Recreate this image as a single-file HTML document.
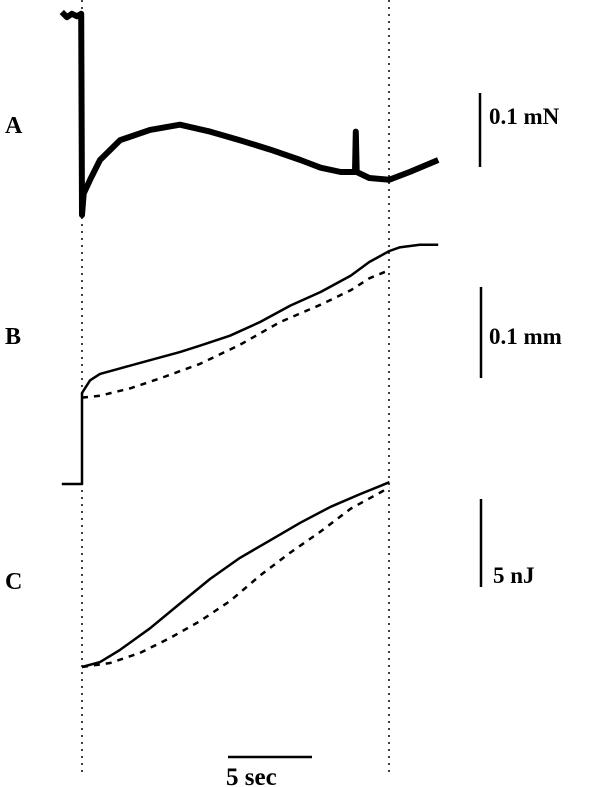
<!DOCTYPE html>
<html><head><meta charset="utf-8"><style>
html,body{margin:0;padding:0;background:#fff;}
svg{display:block;}
text{font-family:"Liberation Serif",serif;font-weight:bold;fill:#000;}
</style></head><body>
<svg id="chart" width="600" height="787" viewBox="0 0 600 787">
  <line x1="82" y1="0" x2="82" y2="772" stroke="#000" stroke-width="1.5" stroke-dasharray="2,5"/>
  <line x1="389" y1="0" x2="389" y2="772" stroke="#000" stroke-width="1.5" stroke-dasharray="2,5"/>
  <text x="5" y="133" font-size="24">A</text>
  <text x="5" y="344" font-size="24">B</text>
  <text x="5" y="589" font-size="24">C</text>
  <line x1="480" y1="93" x2="480" y2="167" stroke="#000" stroke-width="2.5"/>
  <text x="489" y="124" font-size="23">0.1 mN</text>
  <line x1="481" y1="287" x2="481" y2="378" stroke="#000" stroke-width="2.5"/>
  <text x="489" y="344" font-size="23">0.1 mm</text>
  <line x1="481" y1="499" x2="481" y2="587" stroke="#000" stroke-width="2.5"/>
  <text x="493" y="583" font-size="23">5 nJ</text>
  <line x1="228" y1="757" x2="312" y2="757" stroke="#000" stroke-width="2.5"/>
  <text x="226" y="785" font-size="25">5 sec</text>
  <g id="series"></g>
</svg>
<script>
// time in seconds (0 = stimulation start)
const timeA = [-1.2, -0.9, -0.6, -0.3, -0.05, 0, 0.1, 0.48, 1.07, 2.26, 4.05, 5.83, 7.62, 9.4, 11.2, 13.0, 14.2, 15.4, 16.25, 16.3, 16.35, 17.1, 18.3, 19.5, 21.2];
const forceA = [23.6, 23.0, 23.4, 23.1, 23.4, 0, 2.5, 4.1, 6.4, 8.7, 9.9, 10.5, 9.7, 8.7, 7.6, 6.4, 5.5, 5.0, 5.0, 9.7, 5.0, 4.3, 4.1, 5.0, 6.4]; // 0.01 mN
const timeB = [-1.2, 0, 0, 0.48, 1.07, 2.26, 4.05, 5.83, 7.02, 8.81, 10.6, 12.4, 14.2, 16.0, 17.1, 18.3, 18.9, 20.1, 21.2];
const lengthB = [0, 0, 10, 11.4, 12.1, 12.7, 13.6, 14.5, 15.2, 16.3, 17.8, 19.6, 21.1, 22.9, 24.4, 25.6, 26.0, 26.3, 26.3]; // 0.01 mm
const timeBd = [0, 1.07, 2.86, 4.64, 7.02, 9.4, 11.8, 14.2, 16.0, 17.1, 18.3];
const lengthBd = [9.5, 9.7, 10.5, 11.6, 13.2, 15.3, 17.8, 19.7, 21.3, 22.6, 23.5];
const timeC = [0, 1.07, 2.26, 4.05, 5.83, 7.62, 9.4, 11.2, 13.0, 14.8, 16.5, 18.3];
const energyC = [0, 0.28, 0.97, 2.2, 3.6, 5.0, 6.2, 7.2, 8.2, 9.1, 9.8, 10.5]; // nJ
const timeCd = [0, 1.67, 3.45, 5.24, 7.02, 8.81, 10.6, 12.4, 14.2, 16.0, 18.3];
const energyCd = [0, 0.23, 0.8, 1.65, 2.6, 3.75, 5.2, 6.5, 7.7, 9.0, 10.2];

const xScale = t => 82 + t * 16.8;
const yA = v => 215 - v * 8.6;
const yB = v => 484 - v * 9.1;
const yC = v => 667 - v * 17.6;
const NS = "http://www.w3.org/2000/svg";
const g = document.getElementById("series");
function draw(ts, vs, ys, name, dash, w) {
  const p = document.createElementNS(NS, "path");
  let d = "";
  ts.forEach((t, i) => { d += (i ? "L" : "M") + xScale(t).toFixed(1) + "," + ys(vs[i]).toFixed(1); });
  p.setAttribute("d", d);
  p.setAttribute("fill", "none");
  p.setAttribute("stroke", "#000");
  p.setAttribute("stroke-width", w);
  p.setAttribute("stroke-linejoin", "round");
  if (dash) p.setAttribute("stroke-dasharray", dash);
  
  
  g.appendChild(p);
}
draw(timeA, forceA, yA, "force-trace", null, 6);
draw(timeB, lengthB, yB, "length-trace-solid", null, 2.5);
draw(timeBd, lengthBd, yB, "length-trace-dashed", "6,6", 2.5);
draw(timeC, energyC, yC, "energy-trace-solid", null, 2.5);
draw(timeCd, energyCd, yC, "energy-trace-dashed", "6,6", 2.5);
</script>
</body></html>
